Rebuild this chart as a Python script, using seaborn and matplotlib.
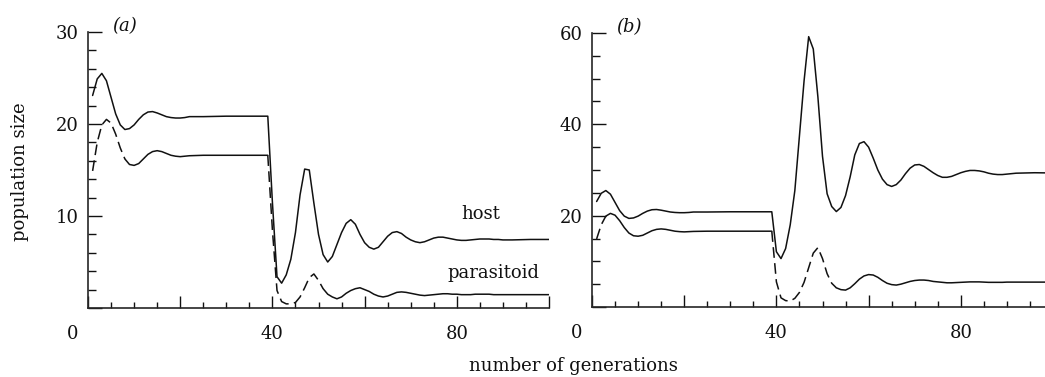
import numpy as np
import pandas as pd
import matplotlib
matplotlib.use("Agg")
import matplotlib.pyplot as plt
import matplotlib.transforms as mtransforms
from matplotlib.ticker import MultipleLocator, FixedLocator, FixedFormatter
import seaborn as sns

# --- data -------------------------------------------------------------------
# generations 1-39 are common to both runs (before the change at generation 40)
GEN_EARLY = list(range(1, 23)) + [25, 30, 35, 39]
HOST_EARLY = [23.1, 24.9, 25.5, 24.7, 22.9, 21.1, 19.9, 19.4, 19.5, 19.9, 20.5,
              21.0, 21.3, 21.35, 21.2, 21.0, 20.8, 20.7, 20.65, 20.65, 20.7,
              20.8, 20.8, 20.85, 20.85, 20.85]
PARA_EARLY = [14.9, 18.0, 19.9, 20.5, 20.1, 18.9, 17.4, 16.2, 15.6, 15.5, 15.7,
              16.2, 16.7, 17.0, 17.1, 17.0, 16.8, 16.6, 16.5, 16.45, 16.5,
              16.55, 16.6, 16.6, 16.6, 16.6]

GEN_LATE = list(range(40, 93)) + [96, 100]

# (a)
HOST_A_LATE = [11.5, 3.4, 2.7, 3.6, 5.3, 8.2, 12.3, 15.1, 15.0, 11.4, 8.0, 5.8,
               5.0, 5.6, 6.9, 8.2, 9.2, 9.6, 9.1, 8.0, 7.1, 6.6, 6.4, 6.6, 7.2,
               7.8, 8.2, 8.3, 8.1, 7.7, 7.4, 7.2, 7.1, 7.2, 7.4, 7.6, 7.7, 7.7,
               7.6, 7.5, 7.4, 7.35, 7.35, 7.4, 7.45, 7.5, 7.5, 7.5, 7.45, 7.45,
               7.4, 7.4, 7.4, 7.45, 7.45]
PARA_A_LATE = [8.5, 1.9, 0.7, 0.45, 0.45, 0.6, 1.2, 2.2, 3.3, 3.7, 3.0, 2.1,
               1.5, 1.2, 1.0, 1.2, 1.6, 1.9, 2.1, 2.2, 2.0, 1.8, 1.5, 1.3, 1.2,
               1.3, 1.5, 1.7, 1.75, 1.7, 1.6, 1.5, 1.4, 1.35, 1.4, 1.45, 1.5,
               1.55, 1.55, 1.5, 1.5, 1.45, 1.45, 1.45, 1.5, 1.5, 1.5, 1.5, 1.45,
               1.45, 1.45, 1.45, 1.45, 1.45, 1.45]

# (b)
HOST_B_LATE = [12.1, 10.6, 12.8, 18.0, 25.5, 37.5, 49.5, 59.2, 56.5, 46.0, 33.0,
               24.8, 22.0, 20.9, 21.8, 24.4, 28.5, 33.3, 35.8, 36.2, 35.0, 32.6,
               30.0, 28.0, 26.8, 26.4, 26.8, 27.8, 29.2, 30.4, 31.1, 31.2, 30.8,
               30.1, 29.4, 28.8, 28.4, 28.4, 28.6, 29.0, 29.4, 29.7, 29.9, 29.9,
               29.8, 29.6, 29.3, 29.1, 29.0, 29.0, 29.1, 29.2, 29.3, 29.4, 29.35]
PARA_B_LATE = [5.5, 2.0, 1.4, 1.3, 1.9, 3.2, 5.4, 8.6, 11.8, 13.0, 10.6, 7.3,
               5.2, 4.2, 3.8, 3.7, 4.2, 5.1, 6.1, 6.8, 7.1, 7.0, 6.5, 5.8, 5.2,
               4.9, 4.8, 5.0, 5.3, 5.6, 5.8, 5.9, 5.9, 5.8, 5.6, 5.5, 5.4, 5.3,
               5.3, 5.35, 5.4, 5.45, 5.5, 5.5, 5.5, 5.45, 5.4, 5.4, 5.4, 5.4,
               5.45, 5.45, 5.45, 5.45, 5.45]

X_TICKS = [0, 20, 40, 60, 80, 100]
X_TICK_LABELS = ["0", "", "40", "", "80", ""]
Y_TICKS_A = [0, 10, 20, 30]
Y_TICK_LABELS_A = ["", "10", "20", "30"]
Y_TICKS_B = [0, 20, 40, 60]
Y_TICK_LABELS_B = ["", "20", "40", "60"]

# --- style ------------------------------------------------------------------
sns.set_style("ticks")
plt.rcParams["font.family"] = ["DejaVu Serif"]
plt.rcParams["axes.linewidth"] = 1.2

INK = "#111111"
DASH = (0, (7, 3.5))
LW = 1.1

W, H = 1045, 377
fig = plt.figure(figsize=(W / 100, H / 100), dpi=100)
fig.patch.set_facecolor("white")


def segments(gen, vals, dashed_spans):
    """Split a series into consecutive pieces, flagging those drawn dashed."""
    gen = np.asarray(gen, float)
    vals = np.asarray(vals, float)
    cuts = sorted({gen[0], gen[-1], *[c for span in dashed_spans for c in span]})
    pieces = []
    for lo, hi in zip(cuts[:-1], cuts[1:]):
        m = (gen >= lo) & (gen <= hi)
        dashed = any(a <= lo and hi <= b for a, b in dashed_spans)
        pieces.append((gen[m], vals[m], dashed))
    return pieces


def panel(rect, host, para, dashed_spans, ylim, yticks, ylabels, yminor, tag):
    ax = fig.add_axes(rect)
    gen = GEN_EARLY + GEN_LATE
    df = pd.DataFrame({"generation": gen, "host": host, "parasitoid": para})

    sns.lineplot(data=df, x="generation", y="host", ax=ax, color=INK,
                 linewidth=LW, sort=False)
    for gx, gy, dashed in segments(df["generation"], df["parasitoid"],
                                   dashed_spans):
        sns.lineplot(x=gx, y=gy, ax=ax, color=INK, linewidth=LW, sort=False,
                     linestyle=DASH if dashed else "-")

    ax.set_xlim(0, 100)
    ax.set_ylim(*ylim)
    ax.set_xlabel("")
    ax.set_ylabel("")
    sns.despine(ax=ax)

    ax.xaxis.set_major_locator(FixedLocator(X_TICKS))
    ax.xaxis.set_major_formatter(FixedFormatter(X_TICK_LABELS))
    ax.xaxis.set_minor_locator(MultipleLocator(5))
    ax.yaxis.set_major_locator(FixedLocator(yticks))
    ax.yaxis.set_major_formatter(FixedFormatter(ylabels))
    ax.yaxis.set_minor_locator(MultipleLocator(yminor))

    ax.tick_params(axis="both", which="both", direction="in", width=1.0,
                   colors=INK, labelsize=13)
    ax.tick_params(axis="y", which="major", length=10, pad=7)
    ax.tick_params(axis="y", which="minor", length=5.5)
    ax.tick_params(axis="x", which="major", length=8.5, pad=12)
    ax.tick_params(axis="x", which="minor", length=4.5)

    # the corner "0" sits a little to the left of the y axis
    shift = mtransforms.ScaledTranslation(-15 / 100, 0, fig.dpi_scale_trans)
    lab0 = ax.get_xticklabels()[0]
    lab0.set_transform(lab0.get_transform() + shift)

    ax.text(0.08, 1.02, tag, transform=ax.transAxes, fontsize=13,
            fontstyle="italic", ha="center", va="center", color=INK)
    return ax


ax_a = panel([88 / W, 1 - 308 / H, 461 / W, 276 / H],
             HOST_EARLY + HOST_A_LATE, PARA_EARLY + PARA_A_LATE,
             [(1, 8), (39, 51)], (0, 30), Y_TICKS_A, Y_TICK_LABELS_A, 2, "(a)")
ax_b = panel([592 / W, 1 - 307 / H, 461 / W, 274 / H],
             HOST_EARLY + HOST_B_LATE, PARA_EARLY + PARA_B_LATE,
             [(1, 3), (39, 53)], (0, 60), Y_TICKS_B, Y_TICK_LABELS_B, 5, "(b)")

ax_a.text(85.3, 10.2, "host", fontsize=13, ha="center", va="center", color=INK)
ax_a.text(87.9, 3.8, "parasitoid", fontsize=13, ha="center", va="center",
          color=INK)

fig.text(20 / W, 1 - 172 / H, "population size", rotation=90, fontsize=13,
         ha="center", va="center", color=INK)
fig.text(573 / W, 1 - 366 / H, "number of generations", fontsize=13,
         ha="center", va="center", color=INK)

fig.savefig("out.png", dpi=100, facecolor="white")
